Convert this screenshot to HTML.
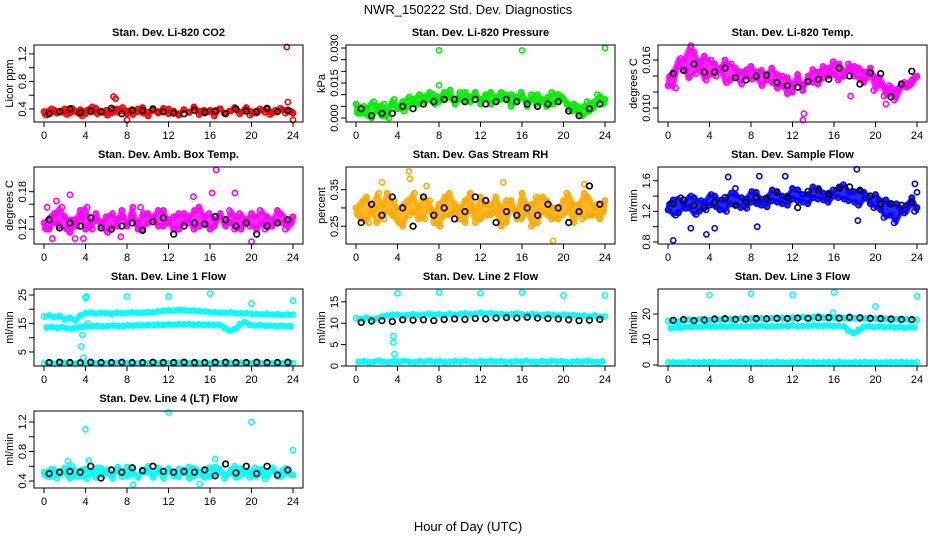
<!DOCTYPE html>
<html><head><meta charset="utf-8"><style>
body{margin:0;background:#fff}
svg{display:block;font-family:"Liberation Sans",sans-serif}
</style></head><body>
<svg id="chart" width="936" height="540" viewBox="0 0 936 540" xmlns="http://www.w3.org/2000/svg">
<rect width="936" height="540" fill="#fff"/>
<text x="468" y="14" text-anchor="middle" font-size="13">NWR_150222  Std. Dev. Diagnostics</text>
<text x="468" y="531" text-anchor="middle" font-size="13">Hour of Day (UTC)</text>
</svg>
<script>
const xTicks=[0,4,8,12,16,20,24];
// CO2
const co2A=[.36,.33,.38,.35,.40,.34,.37,.39,.33,.36,.41,.35,.38,.34,.40,.37,.33,.39,.36,.42,.35,.38,.34,.37,.40,.36,.33,.39,.35,.41,.37,.34,.38,.36,.40,.33,.37,.39,.35,.42,.36,.34,.38,.40,.35,.37,.39,.36,.34];
const co2B=[.31,.40,.34,.37,.32,.41,.35,.30,.38,.43,.33,.36,.31,.39,.35,.42,.37,.32,.40,.34,.30,.38,.36,.41,.33,.37,.31,.39,.35,.43,.32,.38,.36,.30,.40,.34,.37,.42,.33,.39,.31,.36,.40,.35,.32,.38,.41,.34,.37];
const co2K=[.33,.36,.40,.35,.37,.36,.41,.33,.38,.38,.40,.36,.34,.33,.38,.35,.37,.33,.40,.37,.36,.41,.36,.38];
const co2OutT=[6.7,6.9,23.4,23.5,8.0,24];
const co2OutV=[.58,.55,1.3,.5,.24,.24];
// Pressure
const presA=[.006,.002,.004,.000,.005,.001,.003,.006,.004,.007,.005,.008,.006,.009,.008,.010,.007,.011,.009,.008,.010,.007,.009,.011,.008,.010,.006,.009,.011,.008,.010,.007,.009,.005,.008,.010,.007,.009,.006,.010,.008,.004,.006,.002,.005,.003,.007,.009,.008];
const presB=[.002,.005,.001,.007,.003,.006,.000,.008,.005,.003,.009,.006,.010,.007,.011,.006,.009,.008,.012,.006,.008,.011,.007,.010,.006,.009,.011,.007,.008,.010,.005,.009,.011,.007,.010,.006,.008,.005,.011,.007,.009,.006,.003,.005,.001,.007,.004,.010,.006];
const presK=[.004,.001,.002,.002,.005,.004,.006,.007,.008,.008,.007,.008,.006,.007,.008,.007,.006,.005,.006,.007,.003,.001,.004,.006];
const presOutT=[8,8,10,16,24];
const presOutV=[.029,.014,.011,.029,.030];
// Li-820 temp
const tempA=[.0128,.0145,.0152,.0160,.0138,.0170,.0150,.0165,.0142,.0155,.0148,.0160,.0135,.0150,.0145,.0140,.0152,.0138,.0147,.0135,.0150,.0142,.0128,.0138,.0120,.0135,.0128,.0140,.0132,.0145,.0138,.0150,.0142,.0155,.0140,.0148,.0152,.0136,.0145,.0150,.0138,.0130,.0125,.0118,.0122,.0130,.0126,.0135,.0140];
const tempB=[.0140,.0125,.0162,.0148,.0175,.0143,.0158,.0135,.0160,.0140,.0150,.0132,.0155,.0140,.0130,.0148,.0136,.0145,.0128,.0142,.0132,.0125,.0140,.0118,.0130,.0142,.0122,.0135,.0148,.0130,.0152,.0140,.0158,.0135,.0146,.0155,.0140,.0150,.0132,.0142,.0122,.0138,.0115,.0128,.0110,.0125,.0132,.0128,.0138];
const tempK=[.0143,.0147,.0155,.0145,.0145,.0150,.0138,.0135,.0140,.0141,.0132,.0128,.0126,.0133,.0136,.0136,.0150,.0140,.0130,.0144,.0143,.0114,.0130,.0146];
const tempOutT=[13,13.1,21,2.2,17.6];
const tempOutV=[.0085,.0093,.0105,.0178,.0115];
// Amb box temp
const ambA=[.13,.12,.145,.125,.14,.115,.135,.15,.12,.13,.145,.125,.14,.12,.135,.15,.125,.14,.13,.12,.145,.135,.15,.125,.13,.14,.12,.145,.13,.15,.125,.14,.12,.135,.145,.125,.13,.14,.12,.135,.145,.12,.13,.14,.125,.15,.13,.135,.14];
const ambB=[.12,.14,.13,.155,.12,.135,.125,.14,.155,.12,.135,.13,.115,.145,.125,.14,.13,.155,.12,.145,.13,.14,.125,.15,.135,.12,.145,.13,.14,.12,.155,.13,.145,.125,.14,.13,.15,.12,.145,.13,.125,.14,.15,.12,.135,.13,.145,.12,.13];
const ambK=[.135,.122,.13,.125,.138,.122,.12,.125,.13,.118,.132,.138,.112,.125,.13,.128,.14,.135,.125,.13,.112,.125,.13,.135];
const ambOutT=[16.6,2.5,16.2,18.4,1.2,0.3,14.4,9.3,20,7.4,0.8,3,3.8];
const ambOutV=[.215,.175,.178,.178,.165,.155,.172,.155,.10,.108,.105,.105,.105];
// RH
const rhA=[.30,.27,.33,.29,.26,.31,.34,.28,.30,.25,.32,.29,.27,.33,.30,.26,.31,.28,.34,.29,.27,.32,.30,.26,.33,.28,.31,.29,.25,.32,.30,.27,.34,.29,.31,.26,.33,.28,.30,.27,.32,.29,.26,.31,.34,.28,.30,.27,.32];
const rhB=[.28,.32,.26,.30,.34,.27,.29,.32,.26,.31,.28,.34,.30,.27,.32,.29,.25,.33,.28,.31,.30,.26,.34,.29,.27,.31,.28,.33,.30,.26,.32,.29,.27,.31,.25,.33,.29,.32,.27,.30,.28,.34,.31,.29,.27,.33,.28,.31,.29];
const rhK=[.26,.31,.28,.33,.30,.25,.33,.28,.30,.27,.29,.33,.32,.26,.29,.28,.30,.28,.31,.30,.26,.29,.36,.31];
const rhOutT=[5.1,5.2,2.5,14.2,19,6.8,22];
const rhOutV=[.40,.38,.37,.37,.21,.36,.365];
// Sample flow
const flowA=[1.22,1.35,1.18,1.30,1.25,1.38,1.20,1.32,1.28,1.40,1.22,1.35,1.30,1.42,1.25,1.36,1.32,1.45,1.28,1.38,1.34,1.46,1.30,1.40,1.36,1.48,1.32,1.42,1.38,1.50,1.35,1.44,1.40,1.52,1.36,1.45,1.32,1.48,1.38,1.30,1.42,1.22,1.35,1.15,1.30,1.20,1.28,1.38,1.25];
const flowB=[1.30,1.15,1.38,1.24,1.40,1.16,1.34,1.22,1.42,1.26,1.35,1.20,1.44,1.28,1.38,1.24,1.46,1.30,1.36,1.26,1.48,1.32,1.40,1.28,1.50,1.34,1.42,1.30,1.52,1.36,1.44,1.32,1.48,1.38,1.55,1.34,1.46,1.28,1.45,1.38,1.25,1.35,1.12,1.30,1.05,1.25,1.18,1.30,1.20];
const flowK=[1.30,1.35,1.28,1.25,1.32,1.38,1.28,1.33,1.38,1.36,1.45,1.38,1.25,1.46,1.47,1.42,1.50,1.52,1.47,1.40,1.30,1.30,1.28,1.32];
const flowOutT=[.5,3.7,2.2,4.5,5.8,8.8,11.3,18.2,18.3,8.6,23.8,24,6.5];
const flowOutV=[.82,.90,.98,.98,1.65,1.66,1.66,1.75,1.08,1.0,1.56,1.45,1.5];
// Line 1
const l1U=[17.5,17.8,17.3,17.6,16.5,17.0,16.2,17.8,18.6,18.8,18.5,18.7,18.6,18.4,18.8,18.6,18.7,18.9,18.7,18.8,19.0,18.9,19.2,19.4,19.6,19.5,19.8,19.6,19.4,19.5,19.3,19.2,19.0,18.9,18.8,18.7,18.9,18.6,18.5,18.6,18.4,18.3,18.2,18.4,18.1,18.3,18.0,18.2,18.1];
const l1M=[13.6,13.8,13.5,13.7,13.4,13.2,13.6,13.9,14.0,14.1,14.2,14.0,14.1,14.3,14.2,14.1,14.3,14.2,14.4,14.3,14.5,14.4,14.6,14.5,14.7,14.6,14.8,14.7,14.8,14.6,14.7,14.5,14.6,14.4,14.5,13.5,12.5,13.0,14.8,15.5,14.5,14.3,14.4,14.2,14.3,14.1,14.2,14.0,14.1];
const l1L=[1.0,1.1,0.9,1.0,1.2,1.0,0.9,1.1,1.0,1.2,1.0,0.9,1.1,1.0,1.2,1.0,1.1,0.9,1.0,1.1,1.0,1.2,1.0,0.9,1.1,1.0,1.2,1.0,1.1,0.9,1.0,1.1,1.0,1.2,1.0,0.9,1.1,1.0,1.2,1.0,1.1,0.9,1.0,1.1,1.0,1.2,1.0,0.9,1.1];
const l1K=[1.3,1.4,1.3,1.2,1.4,1.3,1.3,1.4,1.3,1.3,1.4,1.3,1.3,1.4,1.3,1.3,1.4,1.4,1.3,1.3,1.4,1.3,1.3,1.4];
const l1OutT=[4,4.1,3.6,3.7,3.8,8,12,16,20,24,4.2];
const l1OutV=[24,24.5,7,11,3,24.5,24.5,25.5,22,23,15];
// Line 2
const l2U=[11.2,11.0,11.3,10.9,11.1,11.5,11.8,11.9,12.0,11.8,11.9,12.1,11.9,12.0,12.2,12.0,12.1,11.9,12.2,12.0,12.1,12.3,12.1,12.2,12.4,12.2,12.3,12.1,12.2,12.0,12.1,12.3,12.1,12.0,12.2,12.0,11.9,12.1,11.9,11.8,12.0,11.8,11.9,11.7,11.8,11.6,11.8,11.5,11.6];
const l2L=[1.0,1.1,0.9,1.0,1.2,1.0,0.9,1.1,1.0,1.2,1.0,0.9,1.1,1.0,1.2,1.0,1.1,0.9,1.0,1.1,1.0,1.2,1.0,0.9,1.1,1.0,1.2,1.0,1.1,0.9,1.0,1.1,1.0,1.2,1.0,0.9,1.1,1.0,1.2,1.0,1.1,0.9,1.0,1.1,1.0,1.2,1.0,0.9,1.1];
const l2K=[10.2,10.5,10.6,10.4,10.8,10.7,10.8,10.6,10.9,11.0,10.9,11.1,11.0,11.2,11.3,11.2,11.4,11.2,11.1,11.0,10.8,10.6,10.7,10.9];
const l2OutT=[4,8,12,16,20,24,3.6,3.6,3.7,3.5];
const l2OutV=[17,17.2,17,17.2,16.5,16.5,7,5.5,2.8,12];
// Line 3
const l3U=[17.2,17.5,17.0,17.6,17.8,17.4,17.9,18.0,17.7,18.1,17.8,18.2,17.9,18.0,18.3,18.0,18.2,17.9,18.3,18.1,18.4,18.2,18.5,18.3,18.6,18.4,18.8,18.5,18.7,19.2,18.6,18.4,18.6,18.3,18.5,18.2,18.4,18.1,18.3,18.0,18.2,17.9,18.1,17.8,18.0,17.7,17.9,17.6,17.8];
const l3M=[14.5,14.8,14.6,15.0,14.8,15.1,14.9,15.2,15.0,15.1,15.2,15.0,15.3,15.1,15.2,15.0,15.3,15.2,15.4,15.1,15.3,15.2,15.4,15.3,15.5,15.2,15.4,15.3,15.5,15.4,15.3,15.5,15.2,15.4,15.1,13.5,12.5,13.8,15.0,15.2,14.9,15.1,14.8,15.0,14.7,14.9,14.6,14.8,14.7];
const l3L=[1.0,1.1,0.9,1.0,1.2,1.0,0.9,1.1,1.0,1.2,1.0,0.9,1.1,1.0,1.2,1.0,1.1,0.9,1.0,1.1,1.0,1.2,1.0,0.9,1.1,1.0,1.2,1.0,1.1,0.9,1.0,1.1,1.0,1.2,1.0,0.9,1.1,1.0,1.2,1.0,1.1,0.9,1.0,1.1,1.0,1.2,1.0,0.9,1.1];
const l3K=[17.5,17.8,17.4,17.6,18.0,18.1,17.9,18.0,18.2,18.1,18.3,18.2,18.4,18.3,18.5,18.6,18.4,18.7,18.5,18.3,18.2,18.0,17.9,17.8];
const l3OutT=[4,8,12,16,20,24,15.9];
const l3OutV=[27.5,28,27.5,28.5,23,27,20.5];
// Line 4 LT
const ltA=[.52,.46,.55,.49,.58,.44,.53,.47,.56,.50,.45,.57,.51,.48,.54,.46,.59,.50,.47,.55,.52,.45,.58,.49,.53,.47,.56,.51,.44,.57,.50,.54,.46,.59,.52,.48,.55,.45,.57,.50,.53,.47,.56,.49,.58,.46,.54,.51,.48];
const ltB=[.47,.56,.44,.53,.49,.60,.46,.55,.43,.52,.58,.48,.55,.44,.59,.51,.47,.56,.45,.52,.60,.48,.53,.44,.57,.50,.46,.55,.59,.47,.53,.45,.58,.49,.56,.44,.51,.60,.47,.54,.45,.58,.50,.43,.55,.52,.46,.57,.49];
const ltK=[.50,.52,.53,.52,.60,.44,.55,.52,.58,.54,.60,.53,.52,.53,.52,.55,.47,.63,.51,.60,.50,.60,.48,.55];
const ltOutT=[4,12,20,24,4.3,8.6,15,2.3,16.5];
const ltOutV=[1.1,1.33,1.2,.82,.68,.35,.36,.67,.7];

const svg=document.getElementById('chart');
const NS='http://www.w3.org/2000/svg';
function mk(tag,attrs,parent){const e=document.createElementNS(NS,tag);for(const k in attrs)e.setAttribute(k,attrs[k]);(parent||svg).appendChild(e);return e;}

const panels=[
 {key:'co2',col:0,row:0,title:'Stan. Dev. Li-820 CO2',ylab:'Licor ppm',ylim:[0.21,1.33],ticks:[0.4,0.6,0.8,1.0,1.2],labels:['0.4','','0.8','','1.2'],color:'#ff0000',band:true,ser:[co2A,co2B],k:co2K,ot:co2OutT,ov:co2OutV},
 {key:'pressure',col:1,row:0,title:'Stan. Dev. Li-820 Pressure',ylab:'kPa',ylim:[-0.0017,0.0313],ticks:[0,0.005,0.01,0.015,0.02,0.025,0.03],labels:['0.000','','','0.015','','','0.030'],color:'#00ee00',band:true,ser:[presA,presB],k:presK,ot:presOutT,ov:presOutV},
 {key:'li820-temp',col:2,row:0,title:'Stan. Dev. Li-820 Temp.',ylab:'degrees C',ylim:[0.00825,0.01788],ticks:[0.010,0.012,0.014,0.016],labels:['0.010','','','0.016'],color:'#ff00ff',band:true,ser:[tempA,tempB],k:tempK,ot:tempOutT,ov:tempOutV},
 {key:'amb-box-temp',col:0,row:1,title:'Stan. Dev. Amb. Box Temp.',ylab:'degrees C',ylim:[0.0963,0.2195],ticks:[0.12,0.14,0.16,0.18],labels:['0.12','','','0.18'],color:'#ff00ff',band:true,ser:[ambA,ambB],k:ambK,ot:ambOutT,ov:ambOutV},
 {key:'gas-rh',col:1,row:1,title:'Stan. Dev. Gas Stream RH',ylab:'percent',ylim:[0.2014,0.412],ticks:[0.25,0.30,0.35],labels:['0.25','','0.35'],color:'#ffaa00',band:true,ser:[rhA,rhB],k:rhK,ot:rhOutT,ov:rhOutV},
 {key:'sample-flow',col:2,row:1,title:'Stan. Dev. Sample Flow',ylab:'ml/min',ylim:[0.774,1.78],ticks:[0.8,1.0,1.2,1.4,1.6],labels:['0.8','','1.2','','1.6'],color:'#0000ff',band:true,ser:[flowA,flowB],k:flowK,ot:flowOutT,ov:flowOutV},
 {key:'line1',col:0,row:2,title:'Stan. Dev. Line 1 Flow',ylab:'ml/min',ylim:[0.09,27.1],ticks:[5,10,15,20,25],labels:['5','','15','','25'],color:'#00ffff',band:false,ser:[l1U,l1M,l1L],k:l1K,ot:l1OutT,ov:l1OutV},
 {key:'line2',col:1,row:2,title:'Stan. Dev. Line 2 Flow',ylab:'ml/min',ylim:[0,18],ticks:[0,5,10,15],labels:['0','5','10','15'],color:'#00ffff',band:false,ser:[l2U,l2L],k:l2K,ot:l2OutT,ov:l2OutV},
 {key:'line3',col:2,row:2,title:'Stan. Dev. Line 3 Flow',ylab:'ml/min',ylim:[-0.4,29.8],ticks:[0,10,20],labels:['0','10','20'],color:'#00ffff',band:false,ser:[l3U,l3M,l3L],k:l3K,ot:l3OutT,ov:l3OutV},
 {key:'line4',col:0,row:3,title:'Stan. Dev. Line 4 (LT) Flow',ylab:'ml/min',ylim:[0.305,1.349],ticks:[0.4,0.6,0.8,1.0,1.2],labels:['0.4','','0.8','','1.2'],color:'#00ffff',band:true,ser:[ltA,ltB],k:ltK,ot:ltOutT,ov:ltOutV}
];

panels.forEach(p=>{
  const L=34+312*p.col, R=303+312*p.col, T=45+122*p.row, B=122+122*p.row;
  const xs=t=>L+10+t*249/24;
  const ys=v=>B-(v-p.ylim[0])/(p.ylim[1]-p.ylim[0])*(B-T);
  const g=mk('g',{});
  
  
  const title=mk('text',{x:(L+R)/2,y:T-9,'text-anchor':'middle','font-size':11,'font-weight':'bold'},g);
  title.textContent=p.title;
  
  
  const yl=mk('text',{x:L-21,y:(T+B)/2,'text-anchor':'middle','font-size':11,transform:`rotate(-90 ${L-21} ${(T+B)/2})`},g);
  yl.textContent=p.ylab;
  
  
  const pts=mk('g',{},g);
  
  
  if(p.band){
    const A=p.ser[0],Bs=p.ser[1];
    const up=A.map((v,i)=>[xs(i*24/(A.length-1)),ys(Math.max(v,Bs[i]))]);
    const lo=A.map((v,i)=>[xs(i*24/(A.length-1)),ys(Math.min(v,Bs[i]))]).reverse();
    const poly=mk('polygon',{points:up.concat(lo).map(q=>q.join(',')).join(' '),fill:p.color,stroke:p.color,'stroke-width':4,'stroke-linejoin':'round','fill-opacity':0.85,'stroke-opacity':0.85},pts);
    
    
  } else {
    p.ser.forEach(arr=>{
      const pl=mk('polyline',{points:arr.map((v,i)=>xs(i*24/(arr.length-1))+','+ys(v)).join(' '),fill:'none',stroke:p.color,'stroke-width':5,'stroke-linejoin':'round'},pts);
      
      
    });
  }
  p.ser.forEach((arr,si)=>{
    const off=si%2?0.25:0; const span=si%2?23.5:24;
    arr.forEach((v,i)=>{
      const t=off+i*span/(arr.length-1);
      const c=mk('circle',{cx:xs(t),cy:ys(v),r:2.6,fill:'none',stroke:p.color,'stroke-width':1.6},pts);
      
      
    });
  });
  p.ot.forEach((t,i)=>{
    const c=mk('circle',{cx:xs(t),cy:ys(p.ov[i]),r:2.6,fill:'none',stroke:p.color,'stroke-width':1.6},pts);
    
    
  });
  p.k.forEach((v,i)=>{
    const t=0.5+i*23/(p.k.length-1);
    const c=mk('circle',{cx:xs(t),cy:ys(v),r:2.8,fill:'none',stroke:'#000','stroke-width':1.7},pts);
    
    
  });
  const box=mk('rect',{x:L,y:T,width:R-L,height:B-T,fill:'none',stroke:'#000','stroke-width':1},g);
  
  
  xTicks.forEach(t=>{
    mk('line',{x1:xs(t),x2:xs(t),y1:B,y2:B+5,stroke:'#000'},g);
    const tl=mk('text',{x:xs(t),y:B+17,'text-anchor':'middle','font-size':11},g);
    tl.textContent=t;
    
    
  });
  p.ticks.forEach((v,i)=>{
    mk('line',{x1:L-5,x2:L,y1:ys(v),y2:ys(v),stroke:'#000'},g);
    if(p.labels[i]){
      const tl=mk('text',{x:L-8,y:ys(v),'text-anchor':'middle','font-size':11,transform:`rotate(-90 ${L-8} ${ys(v)})`},g);
      tl.textContent=p.labels[i];
      
      
    }
  });
});
</script>
</body></html>
